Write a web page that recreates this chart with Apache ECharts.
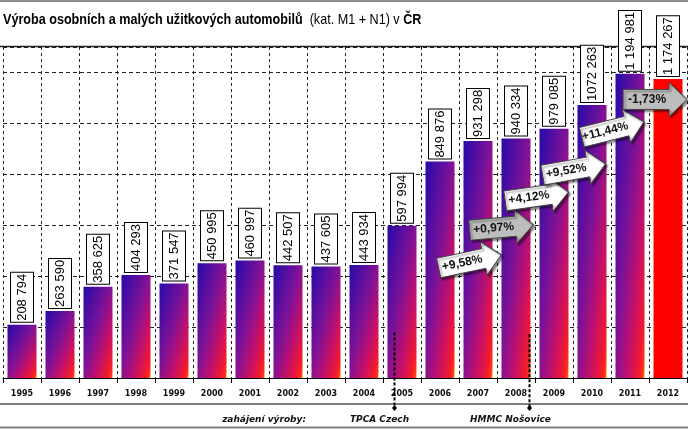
<!DOCTYPE html>
<html>
<head>
<meta charset="utf-8">
<script src="https://cdn.jsdelivr.net/npm/echarts@6/dist/echarts.min.js"></script>
<style>
  html, body { margin: 0; padding: 0; background: #fff; }
  #chart { width: 688px; height: 429px; }
</style>
</head>
<body>
<div id="chart"></div>
<script>
// Production of passenger cars and light commercial vehicles in CZ (cat. M1 + N1)
const years = ['1995', '1996', '1997', '1998', '1999', '2000', '2001', '2002', '2003',
  '2004', '2005', '2006', '2007', '2008', '2009', '2010', '2011', '2012'];
const production = [208794, 263590, 358625, 404293, 371547, 450995, 460997, 442507, 437605,
  443934, 597994, 849876, 931298, 940334, 979085, 1072263, 1194981, 1174267];
const valueLabels = ['208 794', '263 590', '358 625', '404 293', '371 547', '450 995', '460 997',
  '442 507', '437 605', '443 934', '597 994', '849 876', '931 298', '940 334', '979 085',
  '1072 263', '1 194 981', '1 174 267'];
const changeLabels = ['+9,58%', '+0,97%', '+4,12%', '+9,52%', '+11,44%', '-1,73%'];
const plantNames = ['TPCA Czech', 'HMMC Nošovice'];

// where the annotations sit, in axis units (category index, value)
const arrowPlaces = [
  { at: 11.79, value: 458000, tilt: 12, fill: '#ffffff' },
  { at: 12.62, value: 591000, tilt: 5, fill: '#bdbdbd' },
  { at: 13.55, value: 713000, tilt: 8, fill: '#ffffff' },
  { at: 14.53, value: 819000, tilt: 10, fill: '#ffffff' },
  { at: 15.55, value: 976000, tilt: 14, fill: '#ffffff' },
  { at: 16.66, value: 1094000, tilt: 0, fill: '#bdbdbd' },
];
const plantPlaces = [{ at: 9.79, from: 179000 }, { at: 13.34, from: 172000 }];

const SANS = "'Liberation Sans', Arial, sans-serif";
const WIDE = "'DejaVu Sans', Verdana, sans-serif";
const BAR_W = 29;
const STOPS = [
  { offset: 0, color: '#260aa8' },
  { offset: 0.45, color: '#7c1298' },
  { offset: 0.7, color: '#c2106c' },
  { offset: 0.9, color: '#f41a2c' },
  { offset: 0.97, color: '#ff3a10' },
  { offset: 1, color: '#ffb000' },
];

const chart = echarts.init(document.getElementById('chart'));

chart.setOption({
  animation: false,
  grid: { left: 3, right: 1, top: 47, bottom: 51, containLabel: false },
  xAxis: {
    type: 'category',
    data: years,
    axisLine: { lineStyle: { color: '#000', width: 1 } },
    axisTick: { show: true, length: 5, lineStyle: { color: '#000' } },
    axisLabel: { fontFamily: WIDE, fontWeight: 'bold', fontSize: 8, color: '#111', margin: 12 },
    splitLine: { show: true, lineStyle: { color: '#222', type: [3, 3], width: 1 } },
  },
  yAxis: {
    type: 'value',
    min: 0,
    max: 1300000,
    interval: 200000,
    axisLabel: { show: false },
    axisLine: { show: false },
    axisTick: { show: false },
    splitLine: { lineStyle: { color: '#222', type: [4, 3], width: 1 } },
  },
  series: [{
    type: 'bar',
    data: production,
    barWidth: BAR_W,
    label: {
      show: true,
      position: 'top',
      rotate: 90,
      align: 'left',
      verticalAlign: 'middle',
      distance: 3,
      formatter: (p) => valueLabels[p.dataIndex],
      fontFamily: SANS,
      fontSize: 13,
      color: '#000',
      backgroundColor: '#fff',
      borderColor: '#000',
      borderWidth: 1,
      padding: [5, 1, 4, 1],
    },
  }],
});

// pixel helpers from the chart's own scales
const xPix = (i) => chart.convertToPixel({ xAxisIndex: 0 }, i);
const yPix = (v) => chart.convertToPixel({ yAxisIndex: 0 }, v);
const band = xPix(1) - xPix(0);
const baseY = yPix(0);
const atX = (pos) => {
  const i = Math.floor(pos);
  return xPix(i) + (pos - i) * band;
};

// gradient laid out in the bar's own unit square, like the original office chart
const barData = production.map((v, i) => {
  if (i === production.length - 1) {
    return { value: v, itemStyle: { color: '#ff0000' } };
  }
  const h = baseY - yPix(v);
  const w = BAR_W;
  const x2 = (2 * h * h) / (h * h + w * w);
  const y2 = (2 * w * w) / (h * h + w * w);
  return { value: v, itemStyle: { color: new echarts.graphic.LinearGradient(0, 0, x2, y2, STOPS) } };
});

const W = 688;
const TOP = 1;
const graphics = [
  { type: 'line', shape: { x1: 0, y1: 1, x2: W, y2: 1 }, style: { stroke: '#8c8c8c', lineWidth: 2 } },
  { type: 'line', shape: { x1: 0, y1: 46.5, x2: W, y2: 46.5 }, style: { stroke: '#222', lineWidth: 1.5 } },
  { type: 'line', shape: { x1: 0, y1: 404, x2: W, y2: 404 }, style: { stroke: '#808080', lineWidth: 2 } },
  { type: 'line', shape: { x1: 0, y1: 427.5, x2: W, y2: 427.5 }, style: { stroke: '#808080', lineWidth: 2 } },
  // title, squeezed horizontally like the narrow face of the original
  {
    type: 'text', x: 3, y: 20, scaleX: 0.84, zlevel: TOP,
    style: {
      text: '{b|Výroba osobních a malých užitkových automobilů}{n|  (kat. M1 + N1) v }{b|ČR}',
      verticalAlign: 'middle',
      rich: {
        b: { fontFamily: SANS, fontWeight: 'bold', fontSize: 15, fill: '#000' },
        n: { fontFamily: SANS, fontWeight: 'normal', fontSize: 15, fill: '#000' },
      },
    },
  },
  {
    type: 'text', x: 306, y: 420, zlevel: TOP,
    style: { text: 'zahájení výroby:', font: "italic bold 9px 'DejaVu Sans'", fill: '#111', align: 'right', verticalAlign: 'middle' },
  },
];

plantPlaces.forEach((p, k) => {
  const x = Math.round(atX(p.at)) + 0.5;
  graphics.push({
    type: 'line', zlevel: TOP,
    shape: { x1: x, y1: yPix(p.from), x2: x, y2: 407 },
    style: { stroke: '#000', lineWidth: 2, lineDash: [3, 2] },
  });
  graphics.push({
    type: 'polygon', zlevel: TOP,
    shape: { points: [[x, 405], [x + 2.5, 408], [x, 411], [x - 2.5, 408]] },
    style: { fill: '#000' },
  });
  graphics.push({
    type: 'text', x: x - (k === 0 ? 15 : 19), y: 420, zlevel: TOP,
    style: { text: plantNames[k], font: "italic bold 9px 'DejaVu Sans'", fill: '#111', align: 'center', verticalAlign: 'middle' },
  });
});

changeLabels.forEach((txt, k) => {
  const a = arrowPlaces[k];
  graphics.push({
    type: 'group',
    x: atX(a.at),
    y: yPix(a.value),
    rotation: (a.tilt * Math.PI) / 180,
    zlevel: TOP,
    children: [
      {
        type: 'polygon', zlevel: TOP, z: 1,
        shape: { points: [[-32, -10], [14, -10], [14, -17], [32, 0], [14, 17], [14, 10], [-32, 10]] },
        style: {
          fill: a.fill, stroke: '#444', lineWidth: 1,
          shadowBlur: 2, shadowOffsetX: 2, shadowOffsetY: 2, shadowColor: 'rgba(0,0,0,0.45)',
        },
      },
      {
        type: 'text', zlevel: TOP, z: 2,
        x: -8, y: 0,
        style: {
          text: txt, font: "bold 12px 'Liberation Sans'", fill: '#111',
          align: 'center', verticalAlign: 'middle',
        },
      },
    ],
  });
});

chart.setOption({ series: [{ data: barData }], graphic: graphics });
</script>
</body>
</html>
